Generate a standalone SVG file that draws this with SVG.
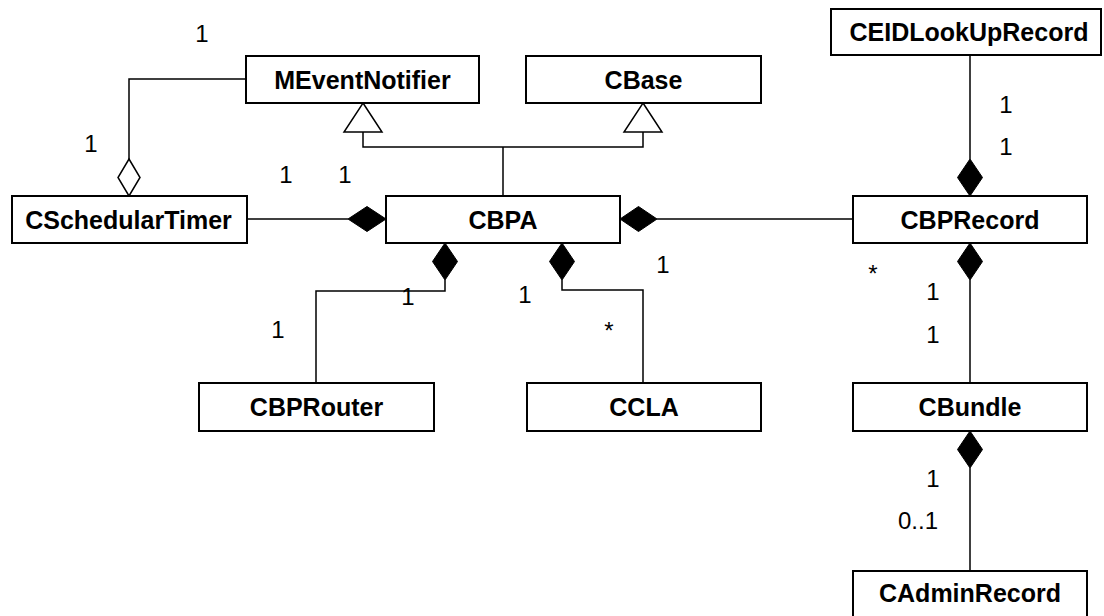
<svg xmlns="http://www.w3.org/2000/svg" width="1104" height="616" viewBox="0 0 1104 616">
<style>
.box{fill:#fff;stroke:#000;stroke-width:2}
.name{font-family:"Liberation Sans",Arial,sans-serif;font-weight:bold;font-size:25px;text-anchor:middle;fill:#000}
.lbl{font-family:"Liberation Sans",Arial,sans-serif;font-size:24px;text-anchor:middle;fill:#000}
.ln{fill:none;stroke:#000;stroke-width:1.5}
.fd{fill:#000;stroke:#000;stroke-width:1}
.hd{fill:#fff;stroke:#000;stroke-width:1.5}
</style>
<rect width="1104" height="616" fill="#fff"/>
<g id="connectors">
  <!-- aggregation CSchedularTimer - MEventNotifier -->
  <polyline class="ln" points="246,79 129,79 129,159"/>
  <polygon class="hd" points="129,159 140,177.5 129,196 118,177.5"/>
  <!-- CSchedularTimer - CBPA -->
  <line class="ln" x1="247" y1="219" x2="348" y2="219"/>
  <polygon class="fd" points="386,219 367,206.5 348,219 367,231.5"/>
  <!-- generalization -->
  <polyline class="ln" points="503,196 503,147"/>
  <polyline class="ln" points="363,132 363,147 643,147 643,132"/>
  <polygon class="hd" points="363,103 382,132 344,132"/>
  <polygon class="hd" points="643,103 662,132 624,132"/>
  <!-- CBPA - CBPRecord -->
  <polygon class="fd" points="620,219 638.5,206.5 657,219 638.5,231.5"/>
  <line class="ln" x1="657" y1="219" x2="853" y2="219"/>
  <!-- CEIDLookUpRecord - CBPRecord -->
  <line class="ln" x1="970" y1="55" x2="970" y2="159"/>
  <polygon class="fd" points="970,159 982.5,177.5 970,196 957.5,177.5"/>
  <!-- CBPA - CBPRouter -->
  <polygon class="fd" points="445,243 457.5,261.5 445,280 432.5,261.5"/>
  <polyline class="ln" points="445,280 445,291 316,291 316,383"/>
  <!-- CBPA - CCLA -->
  <polygon class="fd" points="562,243 574.5,261.5 562,280 549.5,261.5"/>
  <polyline class="ln" points="562,280 562,290 643,290 643,383"/>
  <!-- CBPRecord - CBundle -->
  <polygon class="fd" points="970,243 982.5,261.5 970,280 957.5,261.5"/>
  <line class="ln" x1="970" y1="280" x2="970" y2="383"/>
  <!-- CBundle - CAdminRecord -->
  <polygon class="fd" points="970,431 982.5,449.5 970,468 957.5,449.5"/>
  <line class="ln" x1="970" y1="468" x2="970" y2="571"/>
</g>
<g id="labels">
  <text class="lbl" x="202" y="42">1</text>
  <text class="lbl" x="91" y="152">1</text>
  <text class="lbl" x="286" y="183">1</text>
  <text class="lbl" x="345" y="183">1</text>
  <text class="lbl" x="1006" y="113">1</text>
  <text class="lbl" x="1006" y="155">1</text>
  <text class="lbl" x="408" y="305">1</text>
  <text class="lbl" x="525" y="303">1</text>
  <text class="lbl" x="663" y="273">1</text>
  <text class="lbl" x="278" y="338">1</text>
  <text class="lbl" x="609" y="339">*</text>
  <text class="lbl" x="873" y="282">*</text>
  <text class="lbl" x="933" y="300">1</text>
  <text class="lbl" x="933" y="343">1</text>
  <text class="lbl" x="933" y="487">1</text>
  <text class="lbl" x="918" y="529">0..1</text>
</g>
<g id="MEventNotifier"><rect class="box" x="246" y="56" width="233" height="47"/><text class="name" x="362.5" y="88.5">MEventNotifier</text></g>
<g id="CBase"><rect class="box" x="526" y="56" width="235" height="47"/><text class="name" x="643.5" y="88.5">CBase</text></g>
<g id="CEIDLookUpRecord"><rect class="box" x="831" y="9" width="270" height="46"/><text class="name" x="969" y="41">CEIDLookUpRecord</text></g>
<g id="CSchedularTimer"><rect class="box" x="12" y="196" width="235" height="47"/><text class="name" x="128.5" y="228.5">CSchedularTimer</text></g>
<g id="CBPA"><rect class="box" x="386" y="196" width="234" height="47"/><text class="name" x="503" y="228.5">CBPA</text></g>
<g id="CBPRecord"><rect class="box" x="853" y="196" width="234" height="47"/><text class="name" x="970" y="228.5">CBPRecord</text></g>
<g id="CBPRouter"><rect class="box" x="199" y="383" width="235" height="48"/><text class="name" x="316.5" y="416">CBPRouter</text></g>
<g id="CCLA"><rect class="box" x="527" y="383" width="234" height="48"/><text class="name" x="644" y="416">CCLA</text></g>
<g id="CBundle"><rect class="box" x="853" y="383" width="234" height="48"/><text class="name" x="970" y="416">CBundle</text></g>
<g id="CAdminRecord"><rect class="box" x="853" y="571" width="234" height="47"/><text class="name" x="970" y="602">CAdminRecord</text></g>
</svg>
